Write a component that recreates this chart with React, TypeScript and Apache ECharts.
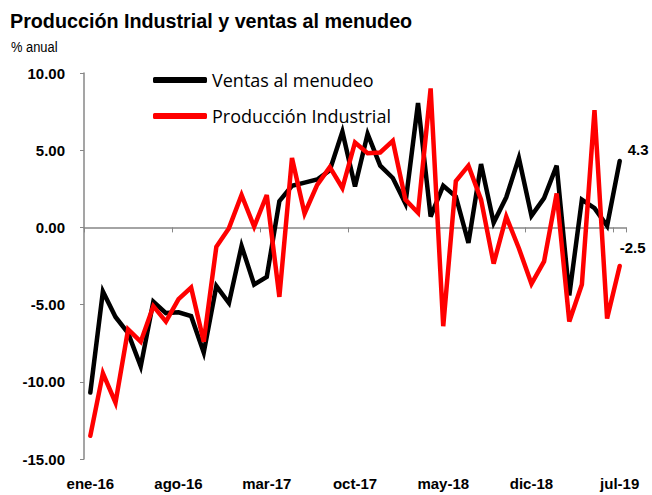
import React, { useEffect, useRef } from "react";
import * as echarts from "echarts";

const categories = [
  "ene-16","feb-16","mar-16","abr-16","may-16","jun-16","jul-16","ago-16","sep-16","oct-16","nov-16","dic-16",
  "ene-17","feb-17","mar-17","abr-17","may-17","jun-17","jul-17","ago-17","sep-17","oct-17","nov-17","dic-17",
  "ene-18","feb-18","mar-18","abr-18","may-18","jun-18","jul-18","ago-18","sep-18","oct-18","nov-18","dic-18",
  "ene-19","feb-19","mar-19","abr-19","may-19","jun-19","jul-19",
];

const ventas = [
  -10.7, -4.15, -5.8, -6.85, -9.0, -4.8, -5.55, -5.5, -5.75, -8.1, -3.8, -4.9,
  -1.2, -3.7, -3.2, 1.7, 2.7, 2.9, 3.1, 3.7, 6.2, 2.65, 6.05, 4.0,
  3.2, 1.55, 8.05, 0.7, 2.7, 2.0, -1.0, 4.1, 0.3, 1.95, 4.5, 0.75,
  1.9, 4.0, -4.4, 1.8, 1.25, 0.1, 4.3,
];

const produccion = [
  -13.5, -9.45, -11.35, -6.6, -7.4, -5.1, -6.1, -4.65, -3.9, -7.4, -1.25, -0.05,
  2.1, 0.05, 2.1, -4.5, 4.5, 0.9, 2.75, 3.9, 2.55, 5.5, 4.8, 4.85,
  5.6, 1.8, 0.95, 9.0, -6.4, 3.0, 4.0, 1.8, -2.35, 0.7, -1.35, -3.65,
  -2.2, 2.2, -6.1, -3.7, 7.6, -5.9, -2.5,
];

const seriesNames = ["Ventas al menudeo", "Producción Industrial"];
const titleText = "Producción Industrial y ventas al menudeo";
const subtitleText = "% anual";

const narrow = "'Liberation Sans Narrow', 'Arial Narrow', 'Liberation Sans', Arial, sans-serif";
const axisGray = "#878787";

export default function App() {
  const ref = useRef<HTMLDivElement>(null);

  useEffect(() => {
    if (!ref.current) return;
    const chart = echarts.init(ref.current, null, { renderer: "svg" });
    chart.setOption({
      animation: false,
      backgroundColor: "#ffffff",
      graphic: [
        {
          type: "text",
          x: 10,
          y: 10,
          scaleX: 0.94,
          style: {
            text: titleText,
            fontFamily: narrow,
            fontSize: 21,
            fontWeight: "bold",
            fill: "#000",
          },
        },
        {
          type: "text",
          x: 11,
          y: 40,
          scaleX: 0.92,
          style: {
            text: subtitleText,
            fontFamily: narrow,
            fontSize: 14,
            fill: "#000",
          },
        },
      ],
      legend: {
        orient: "vertical",
        left: 148,
        top: 66,
        itemWidth: 54,
        itemHeight: 6,
        itemGap: 18,
        icon: "roundRect",
        textStyle: { fontFamily: "'Open Sans', 'Noto Sans', sans-serif", fontSize: 18, color: "#000" },
        data: seriesNames,
      },
      grid: { left: 84, right: 26, top: 73, bottom: 36, containLabel: false },
      xAxis: [
        {
          type: "category",
          data: categories,
          boundaryGap: true,
          position: "bottom",
          axisLine: { onZero: true, lineStyle: { color: axisGray, width: 1.5 } },
          axisTick: { show: true, interval: 6, length: 5, inside: false, lineStyle: { color: axisGray } },
          axisLabel: { show: false },
          splitLine: { show: false },
        },
        {
          type: "category",
          data: categories,
          boundaryGap: true,
          position: "bottom",
          axisLine: { show: false, onZero: false },
          axisTick: { show: false },
          axisLabel: {
            show: true,
            interval: 6,
            margin: 17,
            fontFamily: narrow,
            fontSize: 15,
            fontWeight: "bold",
            color: "#000",
          },
          splitLine: { show: false },
        },
      ],
      yAxis: {
        type: "value",
        min: -15,
        max: 10,
        interval: 5,
        axisLine: { show: true, lineStyle: { color: axisGray, width: 1.5 } },
        axisTick: { show: true, length: 4, lineStyle: { color: axisGray } },
        splitLine: { show: false },
        axisLabel: {
          margin: 19,
          fontFamily: narrow,
          fontSize: 15,
          fontWeight: "bold",
          color: "#000",
          formatter: (v: number) => v.toFixed(2),
        },
      },
      series: [
        {
          name: seriesNames[0],
          type: "line",
          data: ventas,
          xAxisIndex: 0,
          symbol: "none",
          color: "#000000",
          lineStyle: { color: "#000000", width: 4.5, cap: "round", join: "miter" },
          endLabel: {
            show: true,
            formatter: (p: any) => Number(p.value).toFixed(1),
            offset: [0, -12],
            fontFamily: narrow,
            fontSize: 15,
            fontWeight: "bold",
            color: "#000",
          },
        },
        {
          name: seriesNames[1],
          type: "line",
          data: produccion,
          xAxisIndex: 0,
          symbol: "none",
          color: "#ff0000",
          lineStyle: { color: "#ff0000", width: 4.5, cap: "round", join: "miter" },
          endLabel: {
            show: true,
            formatter: (p: any) => Number(p.value).toFixed(1),
            offset: [-8, -19],
            fontFamily: narrow,
            fontSize: 15,
            fontWeight: "bold",
            color: "#000",
          },
        },
      ],
    });
    return () => chart.dispose();
  }, []);

  return (
    <div
      ref={ref}
      style={{ position: "absolute", left: 0, top: 0, width: 652, height: 495 }}
    />
  );
}
